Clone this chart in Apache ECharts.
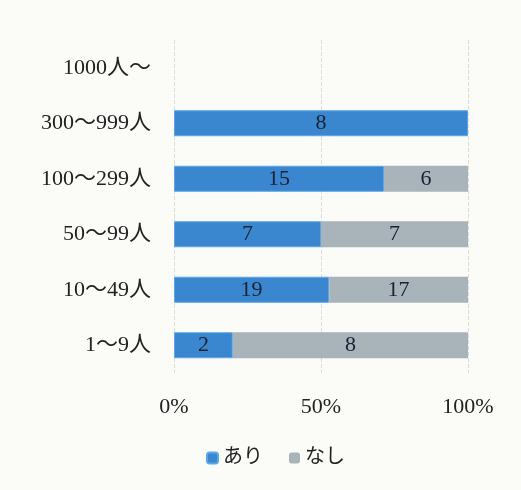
<!DOCTYPE html>
<html>
<head>
<meta charset="utf-8">
<script src="https://cdn.jsdelivr.net/npm/echarts@6/dist/echarts.min.js"></script>
<style>
  html, body { margin: 0; padding: 0; background: #fbfbf8; }
  #chart { width: 521px; height: 490px; }
</style>
</head>
<body>
<div id="chart"></div>
<script>
// Company size groups, bottom to top on the category axis
const categories = ['1～9人', '10～49人', '50～99人', '100～299人', '300～999人', '1000人～'];
// Response counts per group
const ariCounts = [2, 19, 7, 15, 8, 0];
const nashiCounts = [8, 17, 7, 6, 0, 0];
const seriesNames = ['あり', 'なし'];
const percentTicks = [0, 50, 100];

const FONT = '"Liberation Serif", "Noto Sans CJK JP", serif';

// Share of each answer within its group (100% stacked); empty cells are skipped
function makeData(counts) {
  return counts.map((c, i) => {
    const total = ariCounts[i] + nashiCounts[i];
    if (!c || !total) return '-';
    return { value: c / total * 100, count: c };
  });
}

const labelOpt = {
  show: true,
  position: 'inside',
  color: '#1a2232',
  fontFamily: FONT,
  fontSize: 22,
  formatter: p => String(p.data.count)
};

const chart = echarts.init(document.getElementById('chart'));
chart.setOption({
  backgroundColor: '#fbfbf8',
  animation: false,
  grid: { left: 174, right: 53, top: 40, bottom: 117 },
  legend: {
    bottom: 17,
    left: 201,
    itemWidth: 11,
    itemHeight: 11,
    itemGap: 26,
    textStyle: { fontFamily: FONT, fontSize: 20, color: '#222' },
    data: seriesNames
  },
  xAxis: {
    type: 'value',
    min: 0,
    max: 100,
    interval: 50,
    axisLine: { show: false },
    axisTick: { show: false },
    splitLine: { show: true, lineStyle: { color: '#dcdcd8', type: 'dashed', width: 1 } },
    axisLabel: {
      margin: 23,
      fontFamily: FONT,
      fontSize: 22,
      color: '#222',
      formatter: v => (percentTicks.includes(v) ? v + '%' : '')
    }
  },
  yAxis: {
    type: 'category',
    data: categories,
    axisLine: { show: false },
    axisTick: { show: false },
    axisLabel: { margin: 23, fontFamily: FONT, fontSize: 22, color: '#222' }
  },
  series: [
    {
      name: seriesNames[0],
      type: 'bar',
      stack: 'total',
      barWidth: 26,
      itemStyle: { color: '#3a87cf', borderColor: '#5aa6e6', borderWidth: 1 },
      label: labelOpt,
      data: makeData(ariCounts)
    },
    {
      name: seriesNames[1],
      type: 'bar',
      stack: 'total',
      barWidth: 26,
      itemStyle: { color: '#a8b3ba' },
      label: labelOpt,
      data: makeData(nashiCounts)
    }
  ]
});
</script>
</body>
</html>
